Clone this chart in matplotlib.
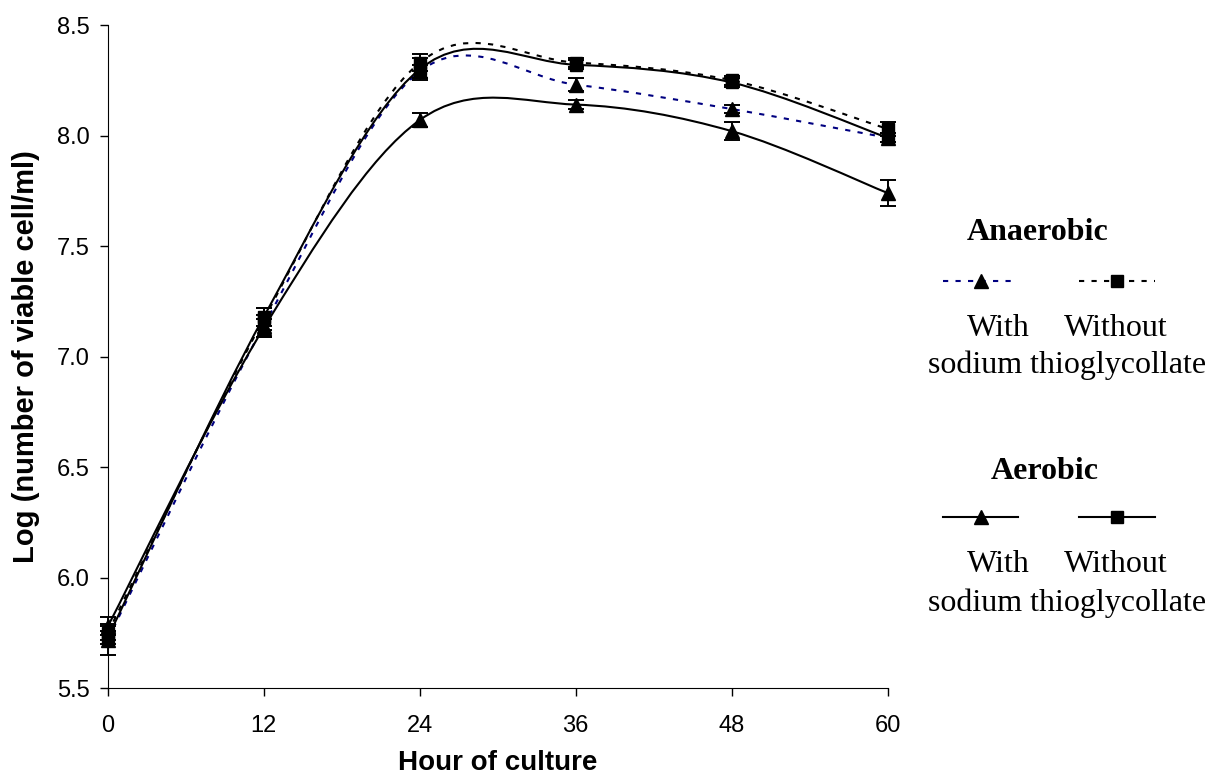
import numpy as np
import matplotlib
matplotlib.use("Agg")
import matplotlib.pyplot as plt
from matplotlib.path import Path
from matplotlib.patches import PathPatch
from matplotlib.lines import Line2D

# Hours of culture and log counts
hours = [0, 12, 24, 36, 48, 60]
anaer_with = [5.72, 7.14, 8.29, 8.23, 8.12, 7.99]
anaer_with_err = [0.07, 0.05, 0.03, 0.03, 0.02, 0.02]
anaer_without = [5.75, 7.17, 8.33, 8.33, 8.25, 8.03]
anaer_without_err = [0.03, 0.05, 0.04, 0.02, 0.02, 0.03]
aer_with = [5.78, 7.13, 8.07, 8.14, 8.02, 7.74]
aer_with_err = [0.04, 0.04, 0.03, 0.02, 0.04, 0.06]
aer_without = [5.73, 7.18, 8.30, 8.32, 8.24, 7.99]
aer_without_err = [0.03, 0.04, 0.05, 0.02, 0.02, 0.02]

navy = "#000080"
dotted = (0, (2.5, 3.5))


def smooth_path(x, y):
    # Excel-style smoothed line: cubic Bezier segments through the points
    x = np.asarray(x, float)
    y = np.asarray(y, float)
    n = len(x)
    verts = [(x[0], y[0])]
    codes = [Path.MOVETO]
    for i in range(n - 1):
        p0 = np.array([x[max(i - 1, 0)], y[max(i - 1, 0)]])
        p1 = np.array([x[i], y[i]])
        p2 = np.array([x[i + 1], y[i + 1]])
        p3 = np.array([x[min(i + 2, n - 1)], y[min(i + 2, n - 1)]])
        c1 = p1 + (p2 - p0) / 6
        c2 = p2 - (p3 - p1) / 6
        verts += [tuple(c1), tuple(c2), tuple(p2)]
        codes += [Path.CURVE4] * 3
    return Path(verts, codes)


series = [
    (anaer_with, anaer_with_err, navy, dotted, "^"),
    (anaer_without, anaer_without_err, "black", dotted, "s"),
    (aer_with, aer_with_err, "black", "-", "^"),
    (aer_without, aer_without_err, "black", "-", "s"),
]

fig = plt.figure(figsize=(12.26, 7.82), dpi=100)
ax = fig.add_axes([0.088, 0.12, 0.636, 0.848])

for vals, errs, color, ls, mk in series:
    ax.add_patch(PathPatch(smooth_path(hours, vals), facecolor="none",
                           edgecolor=color, linestyle=ls, linewidth=1.5, zorder=2))
    ax.errorbar(hours, vals, yerr=errs, fmt=mk, color="black",
                markersize=10 if mk == "^" else 9,
                ecolor="black", elinewidth=1.4, capsize=5.5, capthick=1.4,
                clip_on=False, zorder=3)

ax.set_xlim(0, 60)
ax.set_ylim(5.5, 8.5)
ax.set_xticks(hours)
ax.set_yticks([5.5, 6.0, 6.5, 7.0, 7.5, 8.0, 8.5])
ax.yaxis.set_major_formatter(matplotlib.ticker.FormatStrFormatter("%.1f"))
ax.spines["top"].set_visible(False)
ax.spines["right"].set_visible(False)
ax.tick_params(labelsize=17, direction="out", length=6, width=1)
ax.tick_params(axis="x", pad=13)
ax.tick_params(axis="y", pad=7)
for lab in ax.get_xticklabels() + ax.get_yticklabels():
    lab.set_family("Liberation Sans")
ax.set_xlabel("Hour of culture", fontsize=20, fontweight="bold",
              family="Liberation Sans", labelpad=10)
ax.set_ylabel("Log (number of viable cell/ml)", fontsize=21, fontweight="bold",
              family="Liberation Sans", labelpad=12)

# Hand-built legend on the right, in pixel positions converted to figure fractions
W, H = 1226, 782


def fx(px):
    return px / W


def fy(py):
    return 1 - py / H


serif = "Liberation Serif"
groups = [
    ("Anaerobic", 1038, 232, 281, 328, 365, [(navy, dotted, "^"), ("black", dotted, "s")]),
    ("Aerobic", 1045, 472, 517, 565, 603, [("black", "-", "^"), ("black", "-", "s")]),
]
for title, tx, ty, ly, wy, sy, styles in groups:
    fig.text(fx(tx), fy(ty), title, ha="center", va="center", fontsize=23,
             fontweight="bold", family=serif)
    for (color, ls, mk), (x0, x1) in zip(styles, [(943, 1018), (1079, 1155)]):
        fig.add_artist(Line2D([fx(x0), fx(x1)], [fy(ly), fy(ly)], color=color,
                              linestyle=ls, linewidth=1.5, transform=fig.transFigure))
        fig.add_artist(Line2D([fx((x0 + x1) / 2)], [fy(ly)], color="black", marker=mk,
                              markersize=10 if mk == "^" else 8, linestyle="none",
                              transform=fig.transFigure))
    fig.text(fx(998), fy(wy), "With", ha="center", va="center", fontsize=23, family=serif)
    fig.text(fx(1116), fy(wy), "Without", ha="center", va="center", fontsize=23, family=serif)
    fig.text(fx(1067), fy(sy), "sodium thioglycollate", ha="center", va="center",
             fontsize=23, family=serif)

fig.savefig("out.png", dpi=100)
